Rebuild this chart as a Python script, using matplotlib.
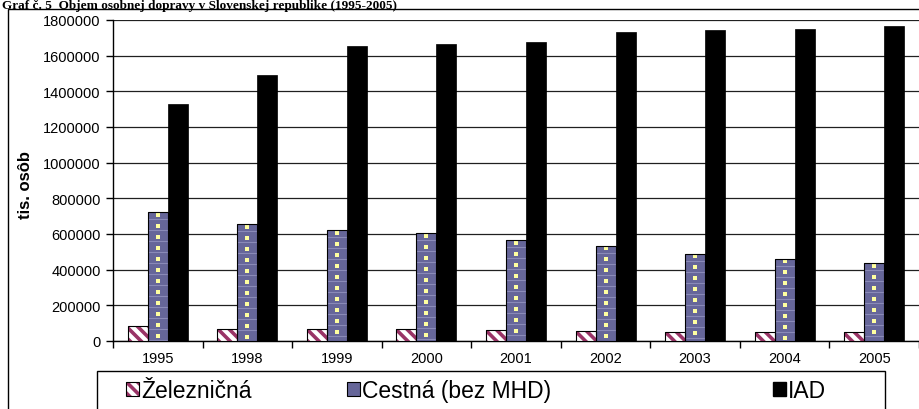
import matplotlib
matplotlib.use("Agg")
import matplotlib.pyplot as plt
from matplotlib.patches import Patch, Rectangle
import numpy as np

years = ["1995", "1998", "1999", "2000", "2001", "2002", "2003", "2004", "2005"]
zeleznicna = [85000, 67000, 67000, 65000, 60000, 58000, 52000, 50000, 48000]
cestna = [722000, 655000, 620000, 605000, 565000, 535000, 490000, 460000, 435000]
iad = [1330000, 1490000, 1655000, 1665000, 1675000, 1735000, 1745000, 1750000, 1768000]
series_names = ["Železničná", "Cestná (bez MHD)", "IAD"]
yticks = list(range(0, 1800001, 200000))
title = "Graf č. 5  Objem osobnej dopravy v Slovenskej republike (1995-2005)"

W, H = 919, 410
plt.rcParams['font.family'] = ['Liberation Sans', 'DejaVu Sans']
plt.rcParams['hatch.linewidth'] = 2.6

fig = plt.figure(figsize=(W / 100, H / 100), dpi=100)

# outer chart frame
fig.patches.append(Rectangle((8 / W, -0.2), 1.2, 1.2 - 10 / H, transform=fig.transFigure,
                             fill=False, edgecolor='black', linewidth=1.0, zorder=0))

ax_bottom_px, ax_top_px = 342, 21
ax = fig.add_axes([113 / W, 1 - ax_bottom_px / H, (W - 113) / W, (ax_bottom_px - ax_top_px) / H])
x = np.arange(len(years))
bw = 0.223
ymax = 1800000
px = ymax / (ax_bottom_px - ax_top_px)  # data units per pixel

# Zeleznicna: hatched stripes
ax.bar(x - bw, zeleznicna, bw, color='white', hatch='\\\\\\', edgecolor='#993366', linewidth=0, zorder=3)
ax.bar(x - bw, zeleznicna, bw, fill=False, edgecolor='black', linewidth=0.8, zorder=5)
# Cestna: blue-grey with faint lines and yellow dots
ax.bar(x, cestna, bw, color='#666699', linewidth=0, zorder=3)
for xi, v in zip(x, cestna):
    ly = np.arange(v - 7 * px, 0, -11 * px)
    ax.hlines(ly, xi - bw / 2, xi + bw / 2, color='#8a8ab8', linewidth=0.8, zorder=4)
    dy = np.arange(v - 2.5 * px, 2 * px, -11 * px)
    ax.scatter(np.full(len(dy), xi), dy, marker='s', s=5, color='#ffffa0', linewidths=0, zorder=4)
ax.bar(x, cestna, bw, fill=False, edgecolor='black', linewidth=0.8, zorder=5)
# IAD
ax.bar(x + bw, iad, bw, color='black', edgecolor='black', linewidth=0.5, zorder=3)

ax.set_xlim(-0.5, len(years) - 0.5)
ax.set_ylim(0, ymax)
ax.set_yticks(yticks)
ax.set_yticklabels([str(v) for v in yticks], fontsize=10.5)
ax.set_xticks(x)
ax.set_xticklabels(years, fontsize=10.5)
ax.set_xticks(np.arange(len(years) + 1) - 0.5, minor=True)
ax.tick_params(axis='x', which='major', length=0, pad=7)
ax.tick_params(axis='x', which='minor', length=5, width=1, direction='out')
ax.tick_params(axis='y', length=5, width=1, direction='out', pad=4)
ax.yaxis.grid(True, color='#202020', linewidth=0.9)
ax.set_axisbelow(True)
for s in ['top', 'right']:
    ax.spines[s].set_visible(False)
ax.spines['left'].set_linewidth(1)
ax.spines['bottom'].set_linewidth(1)

fig.text(25 / W, 1 - 185 / H, "tis. osôb", rotation=90, ha='center', va='center',
         fontsize=12, fontweight='bold', family=['Liberation Sans Narrow', 'Liberation Sans', 'DejaVu Sans'])

fig.text(2 / W, 1 - 0.5 / H, title, ha='left', va='top', fontsize=9.5, fontweight='bold',
         family=['Liberation Serif', 'DejaVu Serif'])

# legend box
fig.patches.append(Rectangle((97 / W, -0.2), (885 - 97) / W, 0.2 + 38 / H, transform=fig.transFigure,
                             fill=False, edgecolor='black', linewidth=1.0))

h_zel = (Patch(facecolor='white', hatch='\\\\\\', edgecolor='#993366', linewidth=0),
         Patch(fill=False, edgecolor='black', linewidth=0.8))
h_ces = (Patch(facecolor='#666699', edgecolor='#8585b0', linewidth=0),
         Patch(fill=False, edgecolor='black', linewidth=0.8))
h_iad = Patch(facecolor='black', edgecolor='black')
handles = [h_zel, h_ces, h_iad]
xs = [126, 347, 773]
for hnd, name, xl in zip(handles, series_names, xs):
    fig.legend([hnd], [name], loc='center left', bbox_to_anchor=(xl / W, 1 - 392 / H),
               frameon=False, fontsize=16.5, handlelength=0.55, handleheight=0.55,
               handletextpad=0.12, borderpad=0, borderaxespad=0)

fig.savefig("out.png", dpi=100)
